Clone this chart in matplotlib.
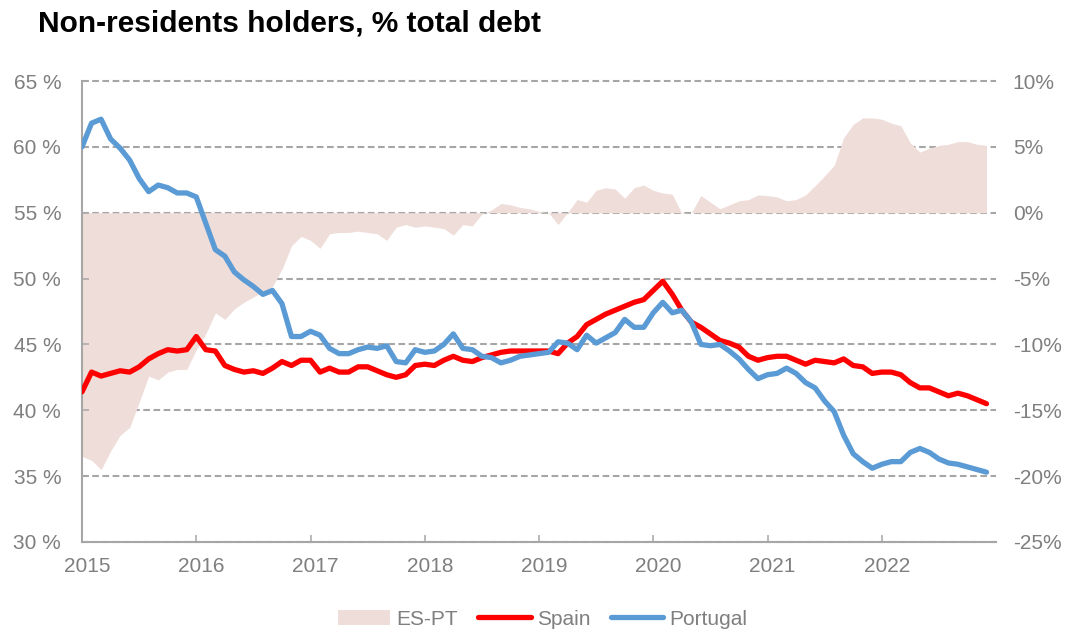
import numpy as np
import matplotlib.pyplot as plt
from matplotlib.transforms import ScaledTranslation

plt.rcParams['font.family'] = ['Liberation Sans', 'DejaVu Sans']

# monthly share of government debt held by non-residents, Jan 2015 - Dec 2022 (%)
spain = [41.4, 42.9, 42.6, 42.8, 43.0, 42.9, 43.3, 43.9, 44.3, 44.6, 44.5, 44.6,
         45.6, 44.6, 44.5, 43.4, 43.1, 42.9, 43.0, 42.8, 43.2, 43.7, 43.4, 43.8,
         43.8, 42.9, 43.2, 42.9, 42.9, 43.3, 43.3, 43.0, 42.7, 42.5, 42.7, 43.4,
         43.5, 43.4, 43.8, 44.1, 43.8, 43.7, 44.0, 44.2, 44.4, 44.5, 44.5, 44.5,
         44.5, 44.5, 44.3, 45.1, 45.6, 46.5, 46.9, 47.3, 47.6, 47.9, 48.2, 48.4,
         49.1, 49.8, 48.8, 47.6, 46.7, 46.3, 45.8, 45.3, 45.1, 44.8, 44.1, 43.8,
         44.0, 44.1, 44.1, 43.8, 43.5, 43.8, 43.7, 43.6, 43.9, 43.4, 43.3, 42.8,
         42.9, 42.9, 42.7, 42.1, 41.7, 41.7, 41.4, 41.1, 41.3, 41.1, 40.8, 40.5]

portugal = [60.0, 61.8, 62.1, 60.6, 59.9, 59.0, 57.6, 56.6, 57.1, 56.9, 56.5, 56.5,
            56.2, 54.2, 52.2, 51.7, 50.5, 49.9, 49.4, 48.8, 49.1, 48.1, 45.6, 45.6,
            46.0, 45.7, 44.7, 44.3, 44.3, 44.6, 44.8, 44.7, 44.9, 43.7, 43.6, 44.6,
            44.4, 44.5, 45.0, 45.8, 44.7, 44.6, 44.1, 44.0, 43.6, 43.8, 44.1, 44.2,
            44.3, 44.4, 45.2, 45.1, 44.6, 45.7, 45.1, 45.5, 45.9, 46.9, 46.3, 46.3,
            47.4, 48.2, 47.4, 47.6, 46.7, 45.0, 44.9, 45.0, 44.5, 43.9, 43.1, 42.4,
            42.7, 42.8, 43.2, 42.8, 42.1, 41.7, 40.7, 39.9, 38.1, 36.7, 36.1, 35.6,
            35.9, 36.1, 36.1, 36.8, 37.1, 36.8, 36.3, 36.0, 35.9, 35.7, 35.5, 35.3]

# spread Spain minus Portugal (pp), right axis
es_pt = [-18.5, -18.8, -19.5, -18.1, -16.9, -16.3, -14.4, -12.4, -12.7, -12.1, -11.9, -11.9,
         -10.4, -9.2, -7.6, -8.1, -7.3, -6.8, -6.4, -6.0, -5.6, -4.3, -2.5, -1.8,
         -2.1, -2.7, -1.6, -1.5, -1.5, -1.4, -1.5, -1.6, -2.1, -1.1, -0.9, -1.1,
         -1.0, -1.1, -1.2, -1.7, -0.9, -1.0, -0.1, 0.2, 0.7, 0.6, 0.4, 0.3,
         0.1, 0.0, -0.9, 0.0, 1.0, 0.8, 1.7, 1.9, 1.8, 1.1, 1.9, 2.1,
         1.7, 1.5, 1.4, -0.05, 0.0, 1.3, 0.8, 0.3, 0.6, 0.9, 1.0, 1.35,
         1.3, 1.2, 0.9, 1.0, 1.35, 2.05, 2.8, 3.6, 5.7, 6.7, 7.2, 7.2,
         7.1, 6.8, 6.6, 5.3, 4.6, 4.9, 5.1, 5.2, 5.4, 5.4, 5.2, 5.1]

years = [2015, 2016, 2017, 2018, 2019, 2020, 2021, 2022]
left_ticks = [30, 35, 40, 45, 50, 55, 60, 65]
right_ticks = [-25, -20, -15, -10, -5, 0, 5, 10]

months = years[0] + np.arange(len(spain)) / 12.0

GREY_TXT = '#7f7f7f'
GREY_LN = '#a6a6a6'

fig = plt.figure(figsize=(10.68, 6.3), dpi=100)
ax_r = fig.add_axes([0.0768, 0.1397, 0.8558, 0.7317])
ax_l = ax_r.twinx()

# spread area on the right-hand scale, underneath the lines
area = ax_r.fill_between(months, 0, es_pt, color='#efddd9', lw=0, label='ES-PT', zorder=1)
ax_r.set_ylim(-25, 10)
ax_r.set_yticks(right_ticks)
ax_r.set_yticklabels(['%d%%' % v for v in right_ticks])
ax_r.yaxis.tick_right()
ax_r.set_axisbelow(True)
ax_r.grid(axis='y', color=GREY_LN, linestyle=(0, (3.2, 1.7)), linewidth=1.5)
# keep the top gridline whole instead of half-clipped at the frame edge
for gl in ax_r.get_ygridlines():
    gl.set_clip_on(False)
ax_r.tick_params(axis='y', length=0, pad=12, labelsize=15, labelcolor=GREY_TXT)

ax_r.set_xlim(2015, 2023)
ax_r.set_xticks(years)
ax_r.set_xticklabels([str(y) for y in years])
ax_r.tick_params(axis='x', direction='in', length=5, width=1.1, color=GREY_LN,
                 pad=11, labelsize=15, labelcolor=GREY_TXT)
for lab in ax_r.get_xticklabels():
    lab.set_transform(lab.get_transform() + ScaledTranslation(0.05, 0, fig.dpi_scale_trans))

for side in ['top', 'right']:
    ax_r.spines[side].set_visible(False)
for side in ['left', 'bottom']:
    ax_r.spines[side].set_color(GREY_LN)
    ax_r.spines[side].set_linewidth(1.5)
    ax_r.spines[side].set_zorder(3)

# country series on the left-hand scale
l_es, = ax_l.plot(months, spain, color='#ff0000', lw=3.8, label='Spain',
                  solid_joinstyle='round', solid_capstyle='round')
l_pt, = ax_l.plot(months, portugal, color='#5b9bd5', lw=3.8, label='Portugal',
                  solid_joinstyle='round', solid_capstyle='round')
ax_l.set_ylim(30, 65)
ax_l.set_yticks(left_ticks)
ax_l.set_yticklabels(['%d %%' % v for v in left_ticks])
ax_l.yaxis.tick_left()
ax_l.yaxis.set_label_position('left')
ax_l.tick_params(axis='y', direction='in', length=5, width=1.1, color=GREY_LN,
                 pad=15, labelsize=15, labelcolor=GREY_TXT)
for side in ax_l.spines:
    ax_l.spines[side].set_visible(False)

fig.text(0.0355, 0.963, 'Non-residents holders, % total debt', fontsize=21.5,
         fontweight='bold', ha='left', va='center', color='black')

fig.legend([area, l_es, l_pt], ['ES-PT', 'Spain', 'Portugal'], loc='center',
           bbox_to_anchor=(0.508, 0.017), ncol=3, frameon=False, fontsize=15,
           handlelength=2.5, handletextpad=0.3, columnspacing=1.0,
           labelcolor=GREY_TXT)

fig.savefig('out.png', dpi=100)
